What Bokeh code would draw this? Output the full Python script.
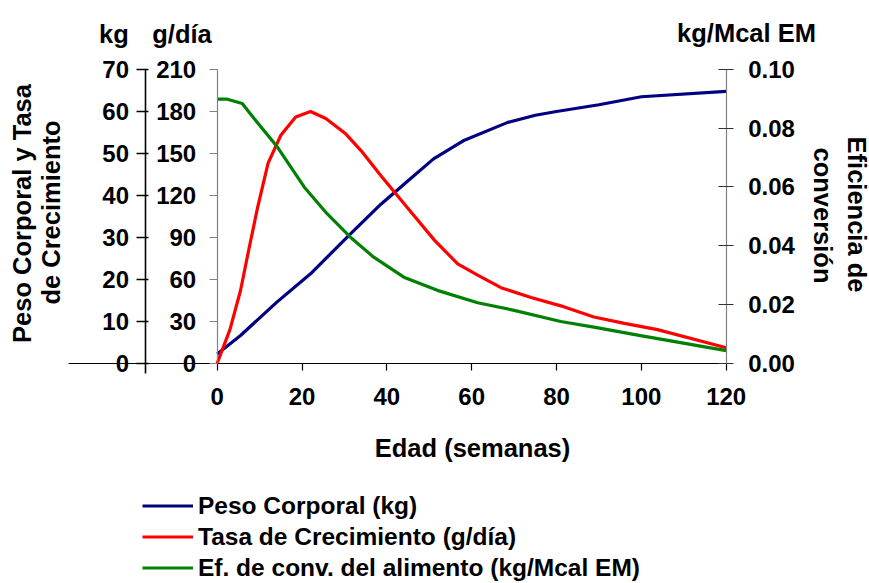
import math
from bokeh.plotting import figure
from bokeh.models import (Range1d, LinearAxis, FixedTicker, Label, Legend,
                          LegendItem, PrintfTickFormatter)
from bokeh.embed import file_html
from bokeh.resources import INLINE

# ---------------- data ----------------
peso_edad = [0, 5.5, 14, 22, 31, 38.6, 45, 51, 58, 68.5, 75, 80, 90, 100, 120]
peso_kg = [2.2, 6.6, 14.5, 21.3, 30.4, 37.9, 43.5, 48.7, 53.0, 57.4, 59.1, 60.0, 61.6, 63.5, 64.8]

tasa_edad = [0, 3, 5.5, 7.5, 9.5, 12, 15, 18.5, 22, 25.6, 30.3, 33.9, 38.6, 44.9,
             51.2, 56.7, 61.4, 66.9, 74, 81, 88.8, 96, 103.8, 120]
tasa_gdia = [0, 24, 52, 82, 111, 143, 163, 176, 180, 175, 164, 152, 134, 111,
             88, 71, 63, 54, 47, 41, 33, 28.5, 24, 11]

efic_edad = [0, 2.4, 5.9, 8.7, 14.2, 20.5, 25.9, 31.4, 36.9, 44, 51.9, 61.4, 70,
             81, 88.8, 99.8, 120]
efic_val = [0.0899, 0.0899, 0.0884, 0.0833, 0.0736, 0.0600, 0.0509, 0.0429, 0.0361,
            0.0293, 0.0248, 0.0206, 0.0180, 0.0142, 0.0123, 0.0094, 0.0043]

x_ticks = [0, 20, 40, 60, 80, 100, 120]
kg_ticks = [0, 10, 20, 30, 40, 50, 60, 70]
gd_ticks = [0, 30, 60, 90, 120, 150, 180, 210]
ef_ticks = [0.0, 0.02, 0.04, 0.06, 0.08, 0.10]

series_labels = ["Peso Corporal (kg)", "Tasa de Crecimiento (g/día)",
                 "Ef. de conv. del alimento (kg/Mcal EM)"]

# ---------------- layout ----------------
W, H = 869, 583
PX_X0, PX_PER_WK = 216.7, 509.0 / 120
PX_Y0, PX_PER_KG = 362.7, 293.7 / 70
GD_PER_KG = 210 / 70
EF_PER_KG = 0.10 / 70


def dx(px):
    return (px - PX_X0) / PX_PER_WK


def dy(py):
    return (PX_Y0 - py) / PX_PER_KG


ys, ye = dy(H), dy(0)
p = figure(width=W, height=H, output_backend="svg", toolbar_location=None,
           x_range=Range1d(dx(0), dx(W)), y_range=Range1d(ys, ye),
           x_axis_type=None, y_axis_type=None, min_border=0,
           outline_line_color=None, background_fill_color="white",
           border_fill_color="white")
p.extra_y_ranges = {"gd": Range1d(ys * GD_PER_KG, ye * GD_PER_KG),
                    "ef": Range1d(ys * EF_PER_KG, ye * EF_PER_KG)}

FONT = "Liberation Sans"
TICK_SZ = "24px"
TITLE_SZ = "25.5px"
LEGEND_SZ = "24.5px"


def style_axis(ax, line_color, tick_color, lw, tin, tout, standoff):
    ax.axis_line_color = line_color
    ax.axis_line_width = lw
    ax.major_tick_line_color = tick_color
    ax.major_tick_line_width = lw
    ax.major_tick_in = tin
    ax.major_tick_out = tout
    ax.minor_tick_line_color = None
    ax.major_label_standoff = standoff
    ax.major_label_text_font = FONT
    ax.major_label_text_font_style = "bold"
    ax.major_label_text_font_size = TICK_SZ
    ax.major_label_text_color = "black"


xaxis = LinearAxis(fixed_location=0, bounds=(dx(68), 120),
                   ticker=FixedTicker(ticks=x_ticks))
style_axis(xaxis, "black", "black", 1.2, 0, 7, 18)
p.add_layout(xaxis, "below")

kgaxis = LinearAxis(fixed_location=dx(144.5), bounds=(dy(373), 70),
                    ticker=FixedTicker(ticks=kg_ticks))
style_axis(kgaxis, "black", "black", 1.6, 3, 9, 7)
p.add_layout(kgaxis, "left")

gdaxis = LinearAxis(y_range_name="gd", fixed_location=0, bounds=(0, 210),
                    ticker=FixedTicker(ticks=gd_ticks))
style_axis(gdaxis, "#808080", "#808080", 1.2, 0, 8, 13)
p.add_layout(gdaxis, "left")

efaxis = LinearAxis(y_range_name="ef", fixed_location=120, bounds=(0, 0.10),
                    ticker=FixedTicker(ticks=ef_ticks),
                    formatter=PrintfTickFormatter(format="%.2f"))
style_axis(efaxis, "#808080", "#333333", 1.2, 8, 7, 15)
p.add_layout(efaxis, "right")

# ---------------- series ----------------
r1 = p.line(peso_edad, peso_kg, line_color="#000080", line_width=3.2)
r2 = p.line(tasa_edad, tasa_gdia, y_range_name="gd", line_color="#FF0000", line_width=3.2)
r3 = p.line(efic_edad, efic_val, y_range_name="ef", line_color="#008000", line_width=3.2)

# ---------------- texts ----------------
def add_label(text, px, py, align="center", baseline="alphabetic", angle=0.0, size=TITLE_SZ):
    p.add_layout(Label(x=dx(px), y=dy(py), text=text, text_font=FONT,
                       text_font_style="bold", text_font_size=size,
                       text_align=align, text_baseline=baseline, angle=angle,
                       text_color="black"))


add_label("kg", 113.5, 33)
add_label("g/día", 181.5, 33)
add_label("kg/Mcal EM", 746, 32.5)
add_label("Edad (semanas)", 472, 447, baseline="middle")
add_label("Peso Corporal y Tasa", 21, 213, baseline="middle", angle=math.pi / 2)
add_label("de Crecimiento", 50, 212, baseline="middle", angle=math.pi / 2)
add_label("Eficiencia de", 856, 214, baseline="middle", angle=-math.pi / 2)
add_label("conversión", 822, 215, baseline="middle", angle=-math.pi / 2)

legend = Legend(items=[LegendItem(label=series_labels[0], renderers=[r1]),
                       LegendItem(label=series_labels[1], renderers=[r2]),
                       LegendItem(label=series_labels[2], renderers=[r3])],
                location=(142, 0), orientation="vertical",
                glyph_width=51, glyph_height=31, label_height=31, spacing=0,
                padding=0, margin=0, label_standoff=5,
                border_line_color=None, background_fill_alpha=0,
                label_text_font=FONT, label_text_font_style="bold",
                label_text_font_size=LEGEND_SZ, label_text_color="black")
p.add_layout(legend, "center")

open("out.html", "w").write(file_html(p, INLINE))
